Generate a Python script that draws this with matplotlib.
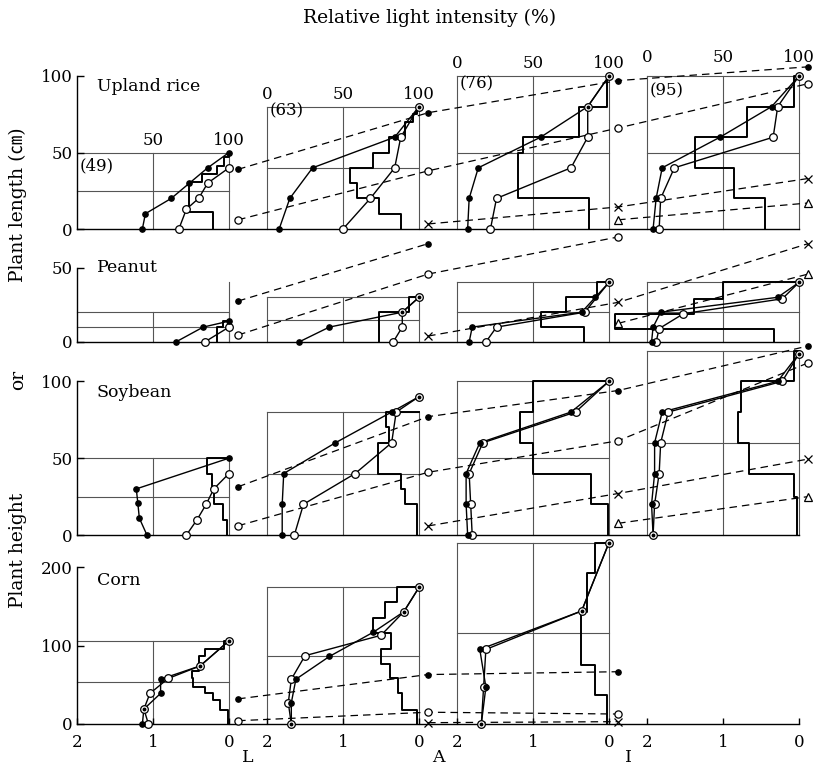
import numpy as np
import matplotlib
matplotlib.use("Agg")
import matplotlib.pyplot as plt

W, H = 817, 771
FONT = ["DejaVu Serif", "Noto Sans CJK JP"]
plt.rcParams["font.family"] = FONT

COL_STEP = 2.5      # one stage panel = 2 LAI units, plus a gap
GAP_X = 2.12        # where the growth markers sit after each panel
GRID = "#555555"

# ---------------- Upland rice ----------------
RICE_BOX = [50, 80, 100, 100]
RICE_TAG = ["(49)", "(63)", "(76)", "(95)"]
RICE_TAG_H = [41, 77, 95, 90]
RICE_FILLED_H = [[0, 10, 20, 30, 40, 50], [0, 20, 40, 60, 80],
                 [0, 20, 40, 60, 80, 100], [0, 20, 40, 60, 80, 100]]
RICE_FILLED_L = [[43, 45, 62, 74, 86, 100], [8, 15, 30, 84, 100],
                 [7, 8, 14, 55, 86, 100], [4, 6, 10, 48, 82, 100]]
RICE_OPEN_H = [[0, 13, 20, 30, 40], [0, 20, 40, 60, 80],
               [0, 20, 40, 60, 80, 100], [0, 20, 40, 60, 80, 100]]
RICE_OPEN_L = [[67, 72, 80, 86, 100], [50, 68, 84, 88, 100],
               [22, 26, 75, 86, 86, 100], [8, 9, 18, 83, 86, 100]]
RICE_LAYERS = [[0, 11, 31, 36, 41, 47, 50],
               [0, 10, 20, 30, 40, 50, 60, 70, 75, 80],
               [0, 20, 50, 60, 80, 100],
               [0, 20, 40, 60, 80, 100]]
RICE_LAI = [[0.21, 0.52, 0.35, 0.16, 0.06, 0.0],
            [0.24, 0.53, 0.81, 0.91, 0.6, 0.39, 0.18, 0.075, 0.02],
            [0.26, 1.2, 1.13, 0.39, 0.02],
            [0.45, 0.86, 1.37, 0.68, 0.07]]
RICE_LIGHT_TICK_H = [58, 88, 108, 112]
RICE_TREND_FILLED = [39, 76, 97, 106]
RICE_TREND_OPEN = [6, 38, 66, 95]
RICE_TREND_CROSS = [None, 3.3, 14.4, 33]
RICE_TREND_TRI = [None, None, 6, 17]

# ---------------- Peanut ----------------
PEANUT_BOX = [20, 30, 40, 40]
PEANUT_RULE = 40
PEANUT_FILLED_H = [[0, 10, 14], [0, 10, 20, 30], [0, 10, 20, 30, 40], [0, 10, 20, 30, 40]]
PEANUT_FILLED_L = [[65, 83, 100], [21, 41, 89, 100], [8, 10, 82, 91, 100], [3, 4, 9, 86, 100]]
PEANUT_OPEN_H = [[0, 10], [0, 10, 20, 30], [0, 10, 20, 40], [0, 9, 19, 29, 40]]
PEANUT_OPEN_L = [[84, 100], [83, 89, 89, 100], [19, 26, 84, 100], [6, 8, 24, 89, 100]]
PEANUT_LAYERS = [[0, 10, 14], [0, 20, 30], [0, 10, 20, 30, 40], [0, 9, 19, 29, 40]]
PEANUT_LAI = [[0.16, 0.08], [0.52, 0.13], [0.33, 0.89, 0.57, 0.16], [0.33, 2.42, 1.38, 1.0]]
PEANUT_TREND_FILLED = [27.5, 66, None, None]
PEANUT_TREND_OPEN = [4.7, 45.6, 70.5, None]
PEANUT_TREND_CROSS = [None, 4, 26.6, 66]
PEANUT_TREND_TRI = [None, None, 12.5, 45.6]

# ---------------- Soybean ----------------
SOY_BOX = [50, 80, 100, 120]
SOY_FILLED_H = [[0, 11, 21, 30, 50], [0, 20, 40, 60, 80, 90],
                [0, 20, 40, 60, 80, 100], [0, 20, 40, 60, 80, 100, 118]]
SOY_FILLED_L = [[46, 41, 40, 39, 100], [10, 10, 11, 45, 82, 100],
                [7, 6, 6, 15, 75, 100], [4, 3, 5, 5, 10, 86, 100]]
SOY_OPEN_H = [[0, 10, 20, 30, 40], [0, 20, 40, 60, 80, 90],
              [0, 20, 40, 60, 80, 100], [0, 20, 40, 60, 80, 100, 118]]
SOY_OPEN_L = [[72, 79, 85, 90, 100], [18, 24, 58, 82, 85, 100],
              [10, 9, 8, 17, 78, 100], [4, 5, 8, 9, 14, 89, 100]]
SOY_LAYERS = [[0, 10, 20, 30, 40, 50], [0, 20, 30, 40, 60, 70, 80],
              [0, 20, 40, 60, 80, 100], [0, 25, 40, 60, 80, 100, 120]]
SOY_LAI = [[0.03, 0.08, 0.2, 0.23, 0.29], [0.02, 0.18, 0.24, 0.54, 0.39, 0.43],
           [0.01, 0.24, 1.0, 1.17, 1.0], [0.02, 0.07, 0.66, 0.8, 0.76, 0.07]]
SOY_TREND_FILLED = [31.4, 77, 94, 123]
SOY_TREND_OPEN = [6, 40.8, 61.3, 112]
SOY_TREND_CROSS = [None, 5.9, 27, 49.4]
SOY_TREND_TRI = [None, None, 7.6, 25]

# ---------------- Corn ----------------
CORN_BOX = [106, 174, 231]
CORN_FILLED_H = [[0, 19, 39, 57, 74, 106], [0, 27, 57, 86, 117, 143, 174], [0, 47, 95, 144, 231]]
CORN_FILLED_L = [[43, 44, 55, 55, 81, 100], [16, 16, 19, 41, 70, 90, 100], [16, 19, 15, 82, 100]]
CORN_OPEN_H = [[0, 19, 39, 58, 74, 106], [0, 27, 57, 87, 113, 143, 174], [0, 47, 95, 144, 231]]
CORN_OPEN_L = [[47, 44, 48, 60, 81, 100], [16, 14, 16, 25, 75, 90, 100], [16, 17.5, 19, 82, 100]]
CORN_LAYERS = [[0, 18, 30, 39, 47, 58, 67, 86, 96, 106],
               [0, 18, 39, 58, 77, 95, 116, 135, 155, 174],
               [0, 37, 75, 143, 192, 231]]
CORN_LAI = [[0.01, 0.12, 0.21, 0.31, 0.47, 0.49, 0.4, 0.31, 0.06],
            [0.02, 0.23, 0.28, 0.38, 0.5, 0.37, 0.6, 0.45, 0.29],
            [0.02, 0.18, 0.37, 0.29, 0.18]]
CORN_TREND_FILLED = [32, 63, 66.6, None]
CORN_TREND_OPEN = [4.2, 15, 12.7, None]
CORN_TREND_CROSS = [None, 1.7, 3, None]

# rows: name, pixel row of 0 cm, pixels per cm, y ticks, name height
CROPS = ["Upland rice", "Peanut", "Soybean", "Corn"]
ROW_ZERO_PX = [229, 342, 535, 724]
ROW_PX_PER_CM = [1.53, 1.49, 1.537, 0.785]
ROW_TICKS = [[0, 50, 100], [0, 50], [0, 50, 100], [0, 100, 200]]
NAME_H = [93, 50, 93, 183]

LAI_TICKS = [2, 1, 0]
AXIS_LETTERS = ["L", "A", "I"]


def lai_x(col, lai):
    return COL_STEP * col + 2 - np.asarray(lai, float)


def light_x(col, light):
    return COL_STEP * col + np.asarray(light, float) / 50


def draw_box(ax, col, top, left_edge=True):
    x0 = COL_STEP * col
    kw = dict(color=GRID, lw=0.8, zorder=1)
    if left_edge:
        ax.plot([x0, x0], [0, top], **kw)
    ax.plot([x0, x0 + 2, x0 + 2], [top, top, 0], **kw)
    ax.plot([x0 + 1, x0 + 1], [0, top], **kw)
    ax.plot([x0, x0 + 2], [top / 2, top / 2], **kw)


def draw_layers(ax, col, edges, lai):
    xs, ys = [], []
    for i, v in enumerate(lai):
        xs += [v, v]
        ys += [edges[i], edges[i + 1]]
    xs.append(0)
    ys.append(edges[-1])
    ax.plot(lai_x(col, xs), ys, color="black", lw=1.4, zorder=2)


def draw_profile(ax, col, hf, lf, ho, lo):
    ax.plot(light_x(col, lf), hf, color="black", lw=1.0, zorder=4)
    ax.plot(light_x(col, lo), ho, color="black", lw=1.0, zorder=4)
    ax.plot(light_x(col, lo), ho, "o", ms=5.5, mfc="white", mec="black",
            mew=0.9, ls="none", zorder=5)
    # where both series meet, the scan shows a circle with a dot in it
    both = set(zip(ho, lo))
    big = [(h, l) for h, l in zip(hf, lf) if (h, l) not in both]
    small = [(h, l) for h, l in zip(hf, lf) if (h, l) in both]
    for pts, ms in ((big, 3.8), (small, 1.8)):
        if pts:
            h, l = zip(*pts)
            ax.plot(light_x(col, l), h, "o", ms=ms, color="black", ls="none", zorder=6)


def draw_trend(ax, values, style):
    pts = [(COL_STEP * g + GAP_X, v) for g, v in enumerate(values) if v is not None]
    xs, ys = zip(*pts)
    ax.plot(xs, ys, color="black", lw=0.9, ls=(0, (6, 4)), zorder=3)
    ax.plot(xs, ys, ls="none", zorder=6, **style)


FILLED = dict(marker="o", ms=3.8, color="black")
OPEN = dict(marker="o", ms=5.2, mfc="white", mec="black", mew=0.9)
CROSS = dict(marker="x", ms=5.5, color="black", mew=0.9)
TRI = dict(marker="^", ms=6, mfc="white", mec="black", mew=0.9)

fig = plt.figure(figsize=(W / 100, H / 100), dpi=100)
xlim = (-77 / 76, (W - 77) / 76)

rows = [
    (RICE_BOX, RICE_FILLED_H, RICE_FILLED_L, RICE_OPEN_H, RICE_OPEN_L, RICE_LAYERS, RICE_LAI,
     [RICE_TREND_FILLED, RICE_TREND_OPEN, RICE_TREND_CROSS, RICE_TREND_TRI]),
    (PEANUT_BOX, PEANUT_FILLED_H, PEANUT_FILLED_L, PEANUT_OPEN_H, PEANUT_OPEN_L, PEANUT_LAYERS,
     PEANUT_LAI, [PEANUT_TREND_FILLED, PEANUT_TREND_OPEN, PEANUT_TREND_CROSS, PEANUT_TREND_TRI]),
    (SOY_BOX, SOY_FILLED_H, SOY_FILLED_L, SOY_OPEN_H, SOY_OPEN_L, SOY_LAYERS, SOY_LAI,
     [SOY_TREND_FILLED, SOY_TREND_OPEN, SOY_TREND_CROSS, SOY_TREND_TRI]),
    (CORN_BOX, CORN_FILLED_H, CORN_FILLED_L, CORN_OPEN_H, CORN_OPEN_L, CORN_LAYERS, CORN_LAI,
     [CORN_TREND_FILLED, CORN_TREND_OPEN, CORN_TREND_CROSS]),
]
styles = [FILLED, OPEN, CROSS, TRI]

for r, (box, hf, lf, ho, lo, edges, lai, trends) in enumerate(rows):
    ax = fig.add_axes([0, 0, 1, 1])
    ax.patch.set_visible(False)
    y0, s = ROW_ZERO_PX[r], ROW_PX_PER_CM[r]
    ax.set_xlim(xlim)
    ax.set_ylim((y0 - H) / s, y0 / s)

    for side in ("top", "right"):
        ax.spines[side].set_visible(False)
    ax.spines["left"].set_position(("data", 0))
    ax.spines["left"].set_bounds(0, ROW_TICKS[r][-1])
    ax.spines["bottom"].set_position(("data", 0))
    ax.spines["bottom"].set_bounds(0, COL_STEP * 3 + 2)
    for sp in ("left", "bottom"):
        ax.spines[sp].set_linewidth(1.0)
    ax.set_yticks(ROW_TICKS[r])
    ax.tick_params(axis="y", direction="in", length=5, width=1.0, labelsize=12, pad=3)

    if r == 3:
        xt = [COL_STEP * c + 2 - v for c in range(4) for v in LAI_TICKS]
        ax.set_xticks(xt)
        ax.set_xticklabels([str(v) for c in range(4) for v in LAI_TICKS])
        ax.tick_params(axis="x", direction="in", length=4, width=1.0, labelsize=12, pad=7)
        for c, letter in enumerate(AXIS_LETTERS):
            ax.text(COL_STEP * c + 2.25, (y0 - 758) / s, letter, ha="center",
                    va="center", fontsize=12.5)
    else:
        ax.set_xticks([])

    ax.text(0.26, NAME_H[r], CROPS[r], ha="left", va="center", fontsize=12.5)

    for c in range(len(box)):
        draw_box(ax, c, box[c], left_edge=(c > 0))
        draw_layers(ax, c, edges[c], lai[c])
        draw_profile(ax, c, hf[c], lf[c], ho[c], lo[c])

    for values, st in zip(trends, styles):
        draw_trend(ax, values, st)

    if r == 0:
        for c in range(4):
            marks = [50, 100] if c == 0 else [0, 50, 100]
            for m in marks:
                ax.text(light_x(c, m), RICE_LIGHT_TICK_H[c], str(m), ha="center",
                        va="center", fontsize=12)
            ax.text(COL_STEP * c + 0.04, RICE_TAG_H[c], RICE_TAG[c], ha="left",
                    va="center", fontsize=12)
    if r == 1:
        ax.plot([2, 2], [0, PEANUT_RULE], color=GRID, lw=0.8, zorder=1)

fig.text(430 / W, 1 - 18 / H, "Relative light intensity (%)", ha="center", va="center",
         fontsize=13.5)
fig.text(18 / W, 1 - 205 / H, "Plant length (\u339d)", rotation=90, ha="center",
         va="center", fontsize=13.5)
fig.text(18 / W, 1 - 380 / H, "or", rotation=90, ha="center", va="center", fontsize=13.5)
fig.text(18 / W, 1 - 550 / H, "Plant height", rotation=90, ha="center", va="center",
         fontsize=13.5)

fig.savefig("out.png", dpi=100)
